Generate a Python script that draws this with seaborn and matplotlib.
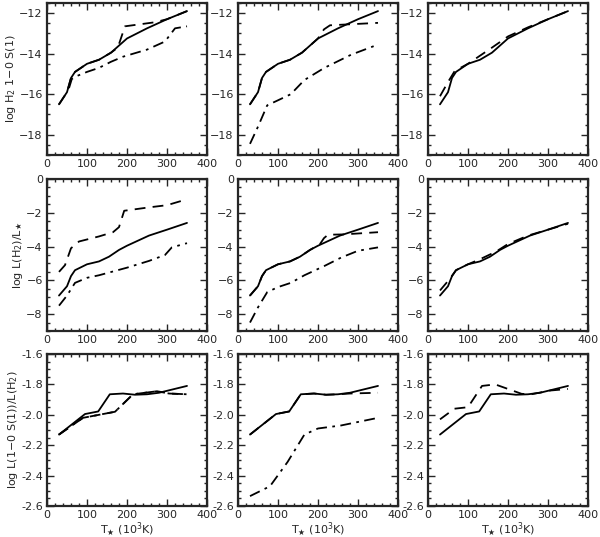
import numpy as np
import matplotlib
matplotlib.use("Agg")
import matplotlib.pyplot as plt
import seaborn as sns
from matplotlib.ticker import MultipleLocator, FormatStrFormatter

# --- data (T_* in 10^3 K) ---
# row 1: log H2 1-0 S(1)
r1_solid_x = [30, 50, 60, 70, 100, 130, 160, 180, 200, 250, 300, 350]
r1_solid_y = [-16.5, -15.9, -15.2, -14.9, -14.5, -14.3, -13.95, -13.6, -13.25, -12.75, -12.3, -11.9]
r1c1_dash_x = [30, 50, 60, 70, 100, 130, 160, 177, 195, 270, 300, 350]
r1c1_dash_y = [-16.5, -15.9, -15.2, -14.9, -14.5, -14.3, -13.95, -13.7, -12.65, -12.45, -12.3, -11.9]
r1c1_dd_x = [55, 62, 75, 100, 130, 160, 190, 250, 295, 320, 350]
r1c1_dd_y = [-15.7, -15.25, -15.1, -14.9, -14.7, -14.4, -14.15, -13.8, -13.4, -12.75, -12.65]
r1c2_dash_x = [30, 50, 60, 70, 100, 130, 160, 180, 200, 215, 230, 350]
r1c2_dash_y = [-16.5, -15.9, -15.2, -14.9, -14.5, -14.3, -13.95, -13.6, -13.25, -12.8, -12.6, -12.48]
r1c2_dd_x = [30, 50, 73, 100, 132, 166, 216, 283, 350]
r1c2_dd_y = [-18.45, -17.6, -16.55, -16.3, -16.0, -15.3, -14.7, -14.05, -13.55]
r1c3_dash_x = [30, 50, 67, 100, 130, 160, 200, 250, 300, 350]
r1c3_dash_y = [-16.1, -15.4, -14.85, -14.5, -14.1, -13.7, -13.15, -12.7, -12.3, -11.9]

# row 2: log L(H2)/L_*
r2_solid_x = [30, 50, 60, 70, 100, 130, 155, 180, 200, 255, 300, 350]
r2_solid_y = [-6.9, -6.35, -5.75, -5.4, -5.05, -4.88, -4.6, -4.2, -3.95, -3.35, -3.0, -2.6]
r2c1_dash_x = [30, 45, 60, 80, 130, 165, 180, 193, 255, 300, 350]
r2c1_dash_y = [-5.5, -5.1, -4.1, -3.7, -3.4, -3.15, -2.85, -1.88, -1.68, -1.55, -1.2]
r2c1_dd_x = [30, 50, 70, 100, 130, 200, 255, 295, 312, 350]
r2c1_dd_y = [-7.5, -6.9, -6.15, -5.85, -5.7, -5.25, -4.85, -4.5, -4.05, -3.8]
r2c2_dash_x = [30, 50, 60, 70, 100, 130, 155, 180, 205, 215, 225, 265, 350]
r2c2_dash_y = [-6.9, -6.35, -5.75, -5.4, -5.05, -4.88, -4.6, -4.2, -3.85, -3.5, -3.3, -3.28, -3.15]
r2c2_dd_x = [30, 50, 73, 100, 132, 166, 216, 258, 300, 350]
r2c2_dd_y = [-8.5, -7.6, -6.7, -6.4, -6.15, -5.7, -5.15, -4.65, -4.25, -4.05]
r2c3_dash_x = [30, 55, 70, 100, 130, 170, 200, 250, 300, 350]
r2c3_dash_y = [-6.6, -5.9, -5.4, -5.05, -4.75, -4.3, -3.85, -3.35, -3.0, -2.65]

# row 3: log L(1-0 S(1))/L(H2)
r3_solid_x = [30, 95, 128, 157, 190, 220, 250, 280, 350]
r3_solid_y = [-2.13, -1.995, -1.978, -1.865, -1.86, -1.868, -1.865, -1.855, -1.81]
r3c1_dash_x = [30, 90, 170, 215, 275, 305, 350]
r3c1_dash_y = [-2.13, -2.02, -1.98, -1.865, -1.845, -1.86, -1.865]
r3c1_dd_x = [30, 90, 170, 215, 275, 305, 350]
r3c1_dd_y = [-2.13, -2.02, -1.98, -1.865, -1.845, -1.86, -1.865]
r3c2_dash_x = [30, 95, 128, 157, 190, 220, 250, 280, 350]
r3c2_dash_y = [-2.13, -1.995, -1.978, -1.865, -1.86, -1.868, -1.865, -1.86, -1.855]
r3c2_dd_x = [30, 80, 124, 166, 200, 258, 350]
r3c2_dd_y = [-2.535, -2.47, -2.31, -2.13, -2.09, -2.07, -2.02]
r3c3_dash_x = [30, 66, 100, 135, 168, 200, 234, 258, 307, 350]
r3c3_dash_y = [-2.03, -1.96, -1.95, -1.81, -1.80, -1.83, -1.862, -1.865, -1.84, -1.83]

ylabels = [r"log H$_2$ 1$-$0 S(1)", r"log L(H$_2$)/L$_\bigstar$", r"log L(1$-$0 S(1))/L(H$_2$)"]
xlabel = r"T$_\bigstar$ (10$^3$K)"

panels = [
    [(r1_solid_x, r1_solid_y, r1c1_dash_x, r1c1_dash_y, r1c1_dd_x, r1c1_dd_y),
     (r1_solid_x, r1_solid_y, r1c2_dash_x, r1c2_dash_y, r1c2_dd_x, r1c2_dd_y),
     (r1_solid_x, r1_solid_y, r1c3_dash_x, r1c3_dash_y, None, None)],
    [(r2_solid_x, r2_solid_y, r2c1_dash_x, r2c1_dash_y, r2c1_dd_x, r2c1_dd_y),
     (r2_solid_x, r2_solid_y, r2c2_dash_x, r2c2_dash_y, r2c2_dd_x, r2c2_dd_y),
     (r2_solid_x, r2_solid_y, r2c3_dash_x, r2c3_dash_y, None, None)],
    [(r3_solid_x, r3_solid_y, r3c1_dash_x, r3c1_dash_y, r3c1_dd_x, r3c1_dd_y),
     (r3_solid_x, r3_solid_y, r3c2_dash_x, r3c2_dash_y, r3c2_dd_x, r3c2_dd_y),
     (r3_solid_x, r3_solid_y, r3c3_dash_x, r3c3_dash_y, None, None)],
]
ylims = [(-19, -11.5), (-9, 0), (-2.6, -1.6)]
ymajor = [2, 2, 0.2]
yminor = [0.5, 0.5, 0.05]

sns.set_style("ticks")
plt.rcParams["font.family"] = ["DejaVu Sans"]
plt.rcParams["mathtext.fontset"] = "dejavusans"

fig = plt.figure(figsize=(6.0, 5.37), dpi=100)
lefts = [47 / 600, 238 / 600, 428 / 600]
bottoms = [1 - 155 / 537, 1 - 331 / 537, 1 - 506 / 537]
w, h = 160 / 600, 152 / 537
fs = 8

for r in range(3):
    for c in range(3):
        ax = fig.add_axes([lefts[c], bottoms[r], w, h])
        sx, sy, dx, dy, ddx, ddy = panels[r][c]
        sns.lineplot(x=sx, y=sy, ax=ax, color="k", lw=1.3, estimator=None, sort=False)
        sns.lineplot(x=dx, y=dy, ax=ax, color="k", lw=1.3, estimator=None, sort=False).lines[-1].set_dashes([6, 4])
        if ddx is not None:
            sns.lineplot(x=ddx, y=ddy, ax=ax, color="k", lw=1.3, estimator=None,
                         sort=False).lines[-1].set_dashes([6, 3, 1.5, 3])
        ax.set_xlim(0, 400)
        ax.set_ylim(*ylims[r])
        ax.xaxis.set_major_locator(MultipleLocator(100))
        ax.xaxis.set_minor_locator(MultipleLocator(20))
        ax.yaxis.set_major_locator(MultipleLocator(ymajor[r]))
        ax.yaxis.set_minor_locator(MultipleLocator(yminor[r]))
        if r == 2:
            ax.yaxis.set_major_formatter(FormatStrFormatter("%.1f"))
        ax.tick_params(which="both", direction="in", top=True, right=True, labelsize=fs, width=1, pad=3)
        ax.tick_params(which="major", length=5)
        ax.tick_params(which="minor", length=2.5)
        for sp in ax.spines.values():
            sp.set_linewidth(1.6)
        ax.set_xlabel(xlabel if r == 2 else "", fontsize=fs, labelpad=0)
        ax.set_ylabel(ylabels[r] if c == 0 else "", fontsize=fs, labelpad=1)

fig.savefig("out.png", dpi=100)
